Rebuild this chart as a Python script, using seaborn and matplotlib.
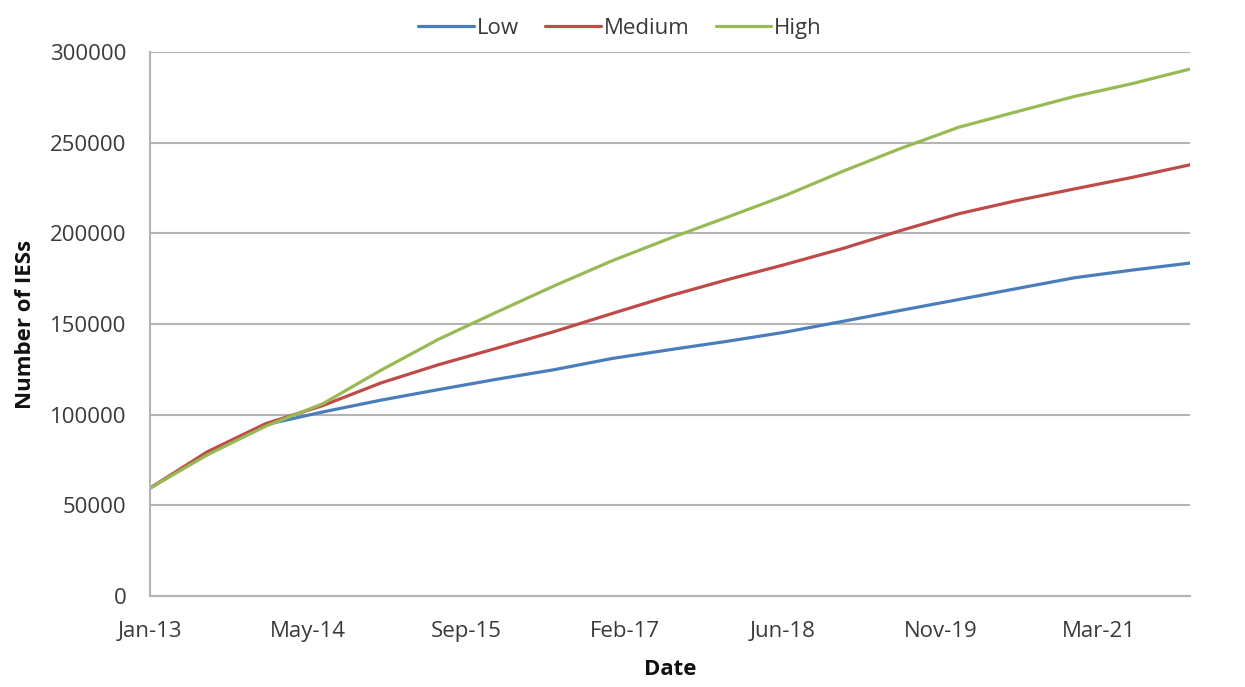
import numpy as np
import pandas as pd
import matplotlib
matplotlib.use("Agg")
import matplotlib.pyplot as plt
import matplotlib.dates as mdates
import seaborn as sns

# Half-yearly projections, Jan-2013 .. Jan-2022
dates = pd.date_range("2013-01-01", "2022-01-01", freq="6MS")
low = [59500, 78500, 94500, 101500, 108000, 113800, 119500, 124800, 131000,
       135800, 140500, 145500, 151500, 157500, 163500, 169500, 175500, 179700, 183600]
medium = [59500, 79500, 95000, 105000, 117500, 127500, 136600, 145800, 155800,
          165500, 174500, 182800, 191700, 201500, 210800, 218000, 224500, 230800, 237800]
high = [59500, 77800, 93600, 106000, 124500, 141500, 156500, 171000, 184900,
        197200, 209000, 220800, 234300, 246800, 258500, 267000, 275500, 282500, 290600]
scenarios = ["Low", "Medium", "High"]
y_ticks = [0, 50000, 100000, 150000, 200000, 250000, 300000]

df = pd.DataFrame({
    "Date": np.tile(dates, 3),
    "Scenario": np.repeat(scenarios, len(dates)),
    "Number of IESs": low + medium + high,
})

sns.set_theme(style="white")
plt.rcParams["font.family"] = ["Open Sans", "DejaVu Sans"]

palette = {"Low": "#4a7ebb", "Medium": "#be4b48", "High": "#98b954"}
grid_col = "#b4b4b4"
text_col = "#3a3a3a"
fs = 16

fig = plt.figure(figsize=(12.45, 6.87), dpi=100)
ax = fig.add_axes([150 / 1245, 1 - 596 / 687, 1040 / 1245, 544 / 687])

sns.lineplot(data=df, x="Date", y="Number of IESs", hue="Scenario",
             hue_order=scenarios, palette=palette, linewidth=2.3, ax=ax)

start = pd.Timestamp("2013-01-01")
ax.set_xlim(start, pd.Timestamp("2022-01-01"))
ax.set_ylim(0, 300000)
ax.set_yticks(y_ticks)
ax.set_yticklabels([str(v) for v in y_ticks])
ax.set_xticks([start + pd.Timedelta(days=500 * k) for k in range(7)])
ax.xaxis.set_major_formatter(mdates.DateFormatter("%b-%y"))

ax.yaxis.grid(True, color=grid_col, linewidth=1.5)
ax.xaxis.grid(False)
ax.set_axisbelow(True)
for side in ["top", "right"]:
    ax.spines[side].set_visible(False)
for side in ["left", "bottom"]:
    ax.spines[side].set_color(grid_col)
    ax.spines[side].set_linewidth(1.5)

ax.tick_params(axis="both", which="major", direction="out", length=7, width=1.3,
               color=grid_col, labelsize=fs, labelcolor=text_col)
ax.tick_params(axis="y", pad=10)
ax.tick_params(axis="x", pad=11)

ax.set_xlabel("Date", fontsize=fs, fontweight="bold", color="#111111", labelpad=12)
ax.set_ylabel("Number of IESs", fontsize=fs, fontweight="bold", color="#111111", labelpad=10)

leg = ax.legend(loc="center", bbox_to_anchor=(0.452, 1.044), ncol=3, frameon=False,
                fontsize=fs, handlelength=2.5, handletextpad=0.12, columnspacing=1.2,
                borderaxespad=0.0)
for t in leg.get_texts():
    t.set_color(text_col)

fig.savefig("out.png", dpi=100, facecolor="white")
